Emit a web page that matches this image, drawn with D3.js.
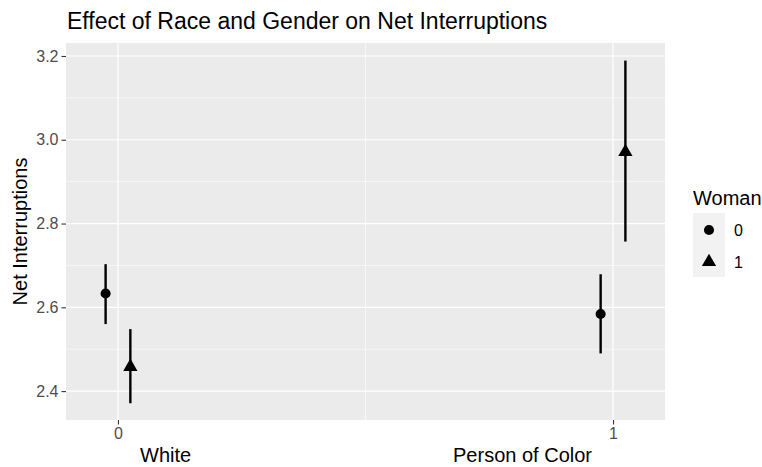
<!DOCTYPE html>
<html lang="en">
<head>
<meta charset="UTF-8">
<title>Effect of Race and Gender on Net Interruptions</title>
<script src="https://cdn.jsdelivr.net/npm/d3@7"></script>
<style>
  body { margin: 0; background: #fff; }
  text { font-family: "Liberation Sans", Arial, Helvetica, sans-serif; }
</style>
</head>
<body>
<svg width="762" height="467"></svg>
<script>
// data: race (0 = White, 1 = Person of Color), woman group 0/1
var race = [0, 0, 1, 1];
var woman = [0, 1, 0, 1];
var estimate = [2.633, 2.458, 2.584, 2.971];
var lower = [2.560, 2.371, 2.490, 2.757];
var upper = [2.703, 2.548, 2.679, 3.189];
var yTicks = [2.4, 2.6, 2.8, 3.0, 3.2];
var xTicks = [0, 1];
var raceLabels = ["White", "Person of Color"];
var legendLabels = ["0", "1"];

var svg = d3.select("svg");
var panel = { left: 66, right: 665, top: 43, bottom: 420 };

var x = d3.scaleLinear().domain([-0.105, 1.105]).range([panel.left, panel.right]);
var y = d3.scaleLinear().domain([2.331, 3.231]).range([panel.bottom, panel.top]);
var dodge = 0.025;

// panel background
svg.append("rect")
  .attr("x", panel.left).attr("y", panel.top)
  .attr("width", panel.right - panel.left)
  .attr("height", panel.bottom - panel.top)
  .attr("fill", "#EBEBEB");

// minor grid
var g = svg.append("g");
[2.5, 2.7, 2.9, 3.1].forEach(function (v) {
  g.append("line").attr("x1", panel.left).attr("x2", panel.right)
    .attr("y1", y(v)).attr("y2", y(v))
    .attr("stroke", "#fff").attr("stroke-width", 0.6);
});
g.append("line").attr("x1", x(0.5)).attr("x2", x(0.5))
  .attr("y1", panel.top).attr("y2", panel.bottom)
  .attr("stroke", "#fff").attr("stroke-width", 0.6);

// major grid
yTicks.forEach(function (v) {
  g.append("line").attr("x1", panel.left).attr("x2", panel.right)
    .attr("y1", y(v)).attr("y2", y(v))
    .attr("stroke", "#fff").attr("stroke-width", 1.2);
});
xTicks.forEach(function (v) {
  g.append("line").attr("x1", x(v)).attr("x2", x(v))
    .attr("y1", panel.top).attr("y2", panel.bottom)
    .attr("stroke", "#fff").attr("stroke-width", 1.2);
});

// axes
var yAxis = d3.axisLeft(y).tickValues(yTicks).tickFormat(d3.format(".1f")).tickSize(4.5).tickPadding(3);
var xAxis = d3.axisBottom(x).tickValues(xTicks).tickFormat(d3.format("d")).tickSize(4.5).tickPadding(3);

var ya = svg.append("g").attr("transform", "translate(" + panel.left + ",0)").call(yAxis);
var xa = svg.append("g").attr("transform", "translate(0," + panel.bottom + ")").call(xAxis);
[ya, xa].forEach(function (a) {
  a.select(".domain").remove();
  a.selectAll(".tick line").attr("stroke", "#333").attr("stroke-width", 1.1);
  a.selectAll(".tick text").attr("fill", "#4D4D4D").style("font-size", "16px")
    .style("font-family", "'Liberation Sans', Arial, sans-serif");
});

// error bars and points
var rows = d3.range(race.length).map(function (i) {
  return { x: race[i] + (woman[i] ? dodge : -dodge), est: estimate[i], lo: lower[i], hi: upper[i], w: woman[i] };
});

svg.selectAll(".bar").data(rows).enter().append("line")
  .attr("x1", function (d) { return x(d.x); })
  .attr("x2", function (d) { return x(d.x); })
  .attr("y1", function (d) { return y(d.lo); })
  .attr("y2", function (d) { return y(d.hi); })
  .attr("stroke", "#000").attr("stroke-width", 2.4);

var circle = d3.symbol().type(d3.symbolCircle).size(80);
var tri = d3.symbol().type(d3.symbolTriangle).size(88);

svg.selectAll(".pt").data(rows).enter().append("path")
  .attr("transform", function (d) { return "translate(" + x(d.x) + "," + y(d.est) + ")"; })
  .attr("d", function (d) { return d.w ? tri() : circle(); })
  .attr("fill", "#000");

// title
svg.append("text").attr("x", 67).attr("y", 29)
  .style("font-size", "23px").attr("fill", "#000")
  .text("Effect of Race and Gender on Net Interruptions");

// y axis title
svg.append("text")
  .attr("transform", "translate(27," + ((panel.top + panel.bottom) / 2) + ") rotate(-90)")
  .attr("text-anchor", "middle")
  .style("font-size", "20px").attr("fill", "#000")
  .text("Net Interruptions");

// x axis title (two parts)
svg.append("text").attr("x", 140).attr("y", 462)
  .style("font-size", "20px").attr("fill", "#000")
  .text(raceLabels[0]);
svg.append("text").attr("x", 592).attr("y", 462).attr("text-anchor", "end")
  .style("font-size", "20px").attr("fill", "#000")
  .text(raceLabels[1]);

// legend
var lg = svg.append("g");
lg.append("text").attr("x", 693).attr("y", 205)
  .style("font-size", "20px").attr("fill", "#000").text("Woman");
legendLabels.forEach(function (lab, i) {
  var top = 213 + i * 32;
  lg.append("rect").attr("x", 693).attr("y", top).attr("width", 32).attr("height", 32)
    .attr("fill", "#F2F2F2");
  lg.append("path")
    .attr("transform", "translate(709," + (top + 17) + ")")
    .attr("d", i ? tri() : circle())
    .attr("fill", "#000");
  lg.append("text").attr("x", 734).attr("y", top + 23)
    .style("font-size", "16px").attr("fill", "#000").text(lab);
});
</script>
</body>
</html>
